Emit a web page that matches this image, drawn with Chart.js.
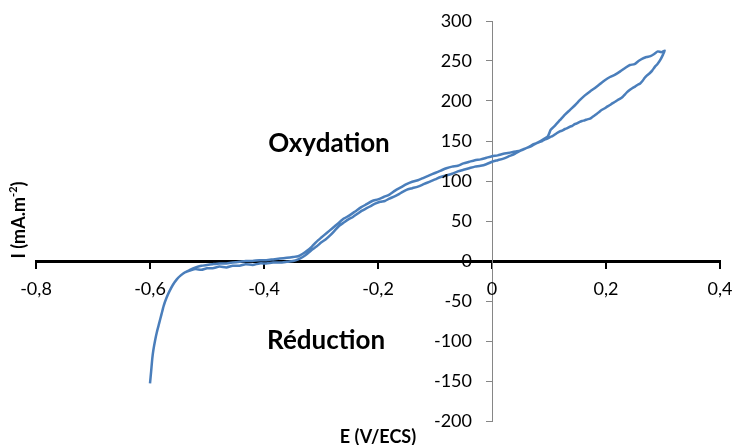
<!DOCTYPE html>
<html lang="fr">
    <head>
        <meta charset="UTF-8" />
        <title>Voltampérométrie cyclique</title>
        <script src="https://cdn.jsdelivr.net/npm/chart.js"></script>
        <style>
            body { margin: 0; background: #fff; }
        </style>
    </head>
    <body>
        <canvas id="cv" width="737" height="445"></canvas>

        <script>
            // Balayage aller : E (V/ECS) et I (mA.m-2)
            const allerE = [-0.600, -0.598, -0.596, -0.594, -0.591, -0.588, -0.584, -0.580, -0.576, -0.571, -0.566, -0.560, -0.553, -0.546, -0.538, -0.530, -0.520, -0.510, -0.500, -0.490, -0.478, -0.466, -0.455, -0.443, -0.432, -0.420, -0.408, -0.396, -0.384, -0.372, -0.360, -0.349, -0.340, -0.332, -0.324, -0.316, -0.308, -0.300, -0.292, -0.284, -0.276, -0.268, -0.260, -0.252, -0.244, -0.236, -0.228, -0.220, -0.212, -0.204, -0.196, -0.188, -0.180, -0.170, -0.160, -0.150, -0.140, -0.130, -0.120, -0.110, -0.100, -0.090, -0.080, -0.070, -0.060, -0.050, -0.040, -0.030, -0.020, -0.010, 0.000, 0.010, 0.020, 0.030, 0.040, 0.050, 0.060, 0.070, 0.080, 0.090, 0.097, 0.100, 0.103, 0.110, 0.119, 0.128, 0.137, 0.146, 0.154, 0.163, 0.172, 0.180, 0.189, 0.198, 0.207, 0.216, 0.225, 0.233, 0.242, 0.250, 0.257, 0.264, 0.271, 0.278, 0.285, 0.291, 0.297, 0.303];
            const allerI = [-153, -138, -122, -111, -99, -89, -78, -67, -56, -46, -38, -30, -23, -18, -14, -12, -10, -11, -9, -9, -7, -8, -6, -6, -4, -5, -3, -3, -2, -2, -1, 0, 2, 5, 9, 14, 18, 23, 27, 32, 38, 44, 48, 52, 55, 59, 63, 66, 69, 72, 74, 75, 78, 81, 85, 89, 91, 93, 96, 99, 102, 105, 107, 109, 112, 114, 116, 118, 119, 121, 124, 126, 128, 131, 134, 138, 141, 144, 148, 152, 155, 159, 164, 169, 176, 183, 189, 195, 201, 207, 212, 216, 221, 226, 230, 233, 237, 241, 245, 246, 250, 253, 255, 256, 259, 262, 261, 263];

            // Balayage retour
            const retourE = [0.300, 0.295, 0.290, 0.286, 0.281, 0.277, 0.272, 0.268, 0.264, 0.260, 0.255, 0.251, 0.246, 0.242, 0.237, 0.233, 0.229, 0.225, 0.220, 0.216, 0.211, 0.207, 0.202, 0.198, 0.193, 0.189, 0.184, 0.180, 0.176, 0.172, 0.167, 0.163, 0.158, 0.154, 0.149, 0.145, 0.141, 0.137, 0.132, 0.128, 0.123, 0.119, 0.114, 0.110, 0.106, 0.102, 0.097, 0.093, 0.088, 0.084, 0.077, 0.070, 0.063, 0.056, 0.049, 0.042, 0.035, 0.028, 0.020, 0.010, 0.000, -0.010, -0.020, -0.030, -0.040, -0.050, -0.060, -0.070, -0.080, -0.090, -0.100, -0.110, -0.120, -0.130, -0.140, -0.150, -0.160, -0.170, -0.180, -0.190, -0.200, -0.210, -0.220, -0.230, -0.240, -0.250, -0.260, -0.270, -0.280, -0.290, -0.300, -0.308, -0.316, -0.324, -0.332, -0.340, -0.349, -0.360, -0.372, -0.384, -0.396, -0.408, -0.420, -0.432, -0.443, -0.455, -0.466, -0.478, -0.490, -0.500, -0.510, -0.520, -0.530, -0.538];
            const retourI = [258, 251, 246, 243, 238, 235, 232, 229, 225, 222, 220, 218, 216, 214, 211, 208, 205, 203, 201, 199, 197, 195, 193, 191, 189, 187, 184, 182, 180, 178, 177, 176, 175, 174, 172, 171, 169, 168, 166, 165, 163, 162, 160, 158, 156, 155, 153, 152, 150, 149, 147, 145, 142, 140, 138, 137, 136, 135, 134, 132, 131, 129, 127, 126, 124, 122, 119, 118, 116, 113, 110, 107, 104, 101, 99, 96, 92, 88, 83, 80, 77, 75, 71, 67, 62, 57, 53, 47, 41, 35, 29, 24, 18, 13, 9, 6, 5, 4, 3, 2, 1, 1, 0, 0, -1, -2, -3, -3, -4, -5, -6, -8, -11, -14];

            const police = "Lato, 'Open Sans', sans-serif";

            // Courbe complète : aller puis retour
            const points = [];
            allerE.forEach((e, i) => points.push({ x: e, y: allerI[i] }));
            retourE.forEach((e, i) => points.push({ x: e, y: retourI[i] }));

            function formatE(v) {
                return Math.abs(v) < 1e-9 ? "0" : v.toFixed(1).replace(".", ",");
            }

            // Étiquettes des graduations (décalées des axes comme dans Excel)
            const etiquettes = {
                id: "etiquettes",
                afterDraw(chart) {
                    const ctx = chart.ctx;
                    const sx = chart.scales.x;
                    const sy = chart.scales.y;
                    const x0 = sx.getPixelForValue(0);
                    const y0 = sy.getPixelForValue(0);
                    ctx.save();
                    ctx.fillStyle = "#000";
                    ctx.font = "18px " + police;
                    ctx.textAlign = "center";
                    ctx.textBaseline = "middle";
                    sx.ticks.forEach((t) => {
                        ctx.fillText(formatE(t.value), sx.getPixelForValue(t.value), y0 + 28);
                    });
                    ctx.textAlign = "right";
                    sy.ticks.forEach((t) => {
                        ctx.fillText(String(t.value), x0 - 20, sy.getPixelForValue(t.value));
                    });
                    ctx.restore();
                },
            };

            // Textes : Oxydation / Réduction et titres des axes
            const textes = {
                id: "textes",
                afterDraw(chart) {
                    const ctx = chart.ctx;
                    const sx = chart.scales.x;
                    const sy = chart.scales.y;
                    ctx.save();
                    ctx.fillStyle = "#000";
                    ctx.textAlign = "center";
                    ctx.textBaseline = "middle";
                    ctx.font = "bold 26px " + police;
                    ctx.fillText("Oxydation", sx.getPixelForValue(-0.286), sy.getPixelForValue(147));
                    ctx.fillText("Réduction", sx.getPixelForValue(-0.291), sy.getPixelForValue(-99));

                    ctx.font = "bold 18px " + police;
                    ctx.fillText("E (V/ECS)", sx.getPixelForValue(-0.2), chart.height - 8);

                    // I (mA.m-2), vertical avec exposant
                    ctx.translate(19, 220);
                    ctx.rotate(-Math.PI / 2);
                    ctx.textAlign = "left";
                    const base = "I (mA.m";
                    const w1 = ctx.measureText(base).width;
                    ctx.font = "bold 11px " + police;
                    const w2 = ctx.measureText("-2").width;
                    ctx.font = "bold 18px " + police;
                    const w3 = ctx.measureText(")").width;
                    const xd = -(w1 + w2 + w3) / 2;
                    ctx.fillText(base, xd, 0);
                    ctx.font = "bold 11px " + police;
                    ctx.fillText("-2", xd + w1, -6);
                    ctx.font = "bold 18px " + police;
                    ctx.fillText(")", xd + w1 + w2, 0);
                    ctx.restore();
                },
            };

            new Chart(document.getElementById("cv"), {
                type: "scatter",
                data: {
                    datasets: [
                        {
                            data: points,
                            showLine: true,
                            borderColor: "#4A7EBB",
                            borderWidth: 2.5,
                            pointRadius: 0,
                            tension: 0.2,
                            fill: false,
                        },
                    ],
                },
                options: {
                    responsive: false,
                    animation: false,
                    layout: { padding: { left: 36, right: 17, top: 21, bottom: 24 } },
                    plugins: {
                        legend: { display: false },
                        tooltip: { enabled: false },
                    },
                    scales: {
                        x: {
                            type: "linear",
                            position: { y: 0 },
                            min: -0.8,
                            max: 0.4,
                            grid: {
                                drawOnChartArea: false,
                                color: "#000",
                                lineWidth: 2,
                                tickLength: 6,
                            },
                            border: { color: "#000", width: 3 },
                            ticks: { stepSize: 0.2, display: false },
                        },
                        y: {
                            type: "linear",
                            position: { x: 0 },
                            min: -200,
                            max: 300,
                            grid: {
                                drawOnChartArea: false,
                                color: "#868686",
                                lineWidth: 1,
                                tickLength: 6,
                            },
                            border: { color: "#868686", width: 1 },
                            ticks: { stepSize: 50, display: false },
                        },
                    },
                },
                plugins: [etiquettes, textes],
            });
        </script>
    </body>
</html>
